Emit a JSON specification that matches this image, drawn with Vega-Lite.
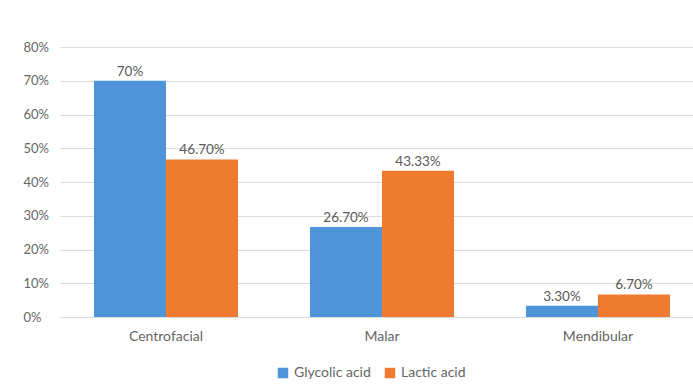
{
  "$schema": "https://vega.github.io/schema/vega-lite/v6.json",
  "autosize": {"type": "none"},
  "width": 633,
  "height": 270,
  "padding": {"left": 60, "top": 47, "right": 0, "bottom": 70},
  "background": "#ffffff",
  "config": {
    "font": "Lato",
    "view": {"stroke": null},
    "axis": {"labelColor": "#666666", "titleColor": "#666666"}
  },
  "data": {
    "values": [
      {"region": "Centrofacial", "acid": "Glycolic acid", "value": 0.70, "label": "70%"},
      {"region": "Centrofacial", "acid": "Lactic acid", "value": 0.467, "label": "46.70%"},
      {"region": "Malar", "acid": "Glycolic acid", "value": 0.267, "label": "26.70%"},
      {"region": "Malar", "acid": "Lactic acid", "value": 0.4333, "label": "43.33%"},
      {"region": "Mendibular", "acid": "Glycolic acid", "value": 0.033, "label": "3.30%"},
      {"region": "Mendibular", "acid": "Lactic acid", "value": 0.067, "label": "6.70%"}
    ]
  },
  "encoding": {
    "x": {
      "field": "region",
      "type": "nominal",
      "sort": ["Centrofacial", "Malar", "Mendibular"],
      "scale": {"paddingInner": 0.3333, "paddingOuter": 0.132, "align": 0.596},
      "axis": {
        "title": null,
        "labelAngle": 0,
        "labelFontSize": 14,
        "ticks": false,
        "tickSize": 0,
        "domain": false,
        "labelPadding": 12
      }
    },
    "xOffset": {"field": "acid", "type": "nominal", "sort": ["Glycolic acid", "Lactic acid"], "scale": {"paddingInner": 0, "paddingOuter": 0}},
    "y": {
      "field": "value",
      "type": "quantitative",
      "scale": {"domain": [0, 0.8]},
      "axis": {
        "title": null,
        "format": ".0%",
        "values": [0, 0.1, 0.2, 0.3, 0.4, 0.5, 0.6, 0.7, 0.8],
        "labelFontSize": 13,
        "ticks": false,
        "tickSize": 0,
        "domain": false,
        "grid": true,
        "gridColor": "#dcdcdc",
        "gridWidth": 1,
        "labelAlign": "left",
        "labelPadding": 37
      }
    }
  },
  "layer": [
    {
      "mark": {"type": "bar"},
      "encoding": {
        "color": {
          "field": "acid",
          "type": "nominal",
          "sort": ["Glycolic acid", "Lactic acid"],
          "scale": {"domain": ["Glycolic acid", "Lactic acid"], "range": ["#4f93d8", "#ee7b30"]},
          "legend": {
            "title": null,
            "orient": "none",
            "direction": "horizontal",
            "legendX": 216,
            "legendY": 319,
            "symbolType": "square",
            "symbolSize": 110,
            "symbolStrokeWidth": 0,
            "labelFontSize": 14,
            "labelColor": "#666666",
            "labelOffset": 4,
            "columnPadding": 12
          }
        }
      }
    },
    {
      "mark": {"type": "text", "baseline": "bottom", "dy": -2, "fontSize": 13.5, "color": "#595959"},
      "encoding": {
        "text": {"field": "label", "type": "nominal"}
      }
    }
  ]
}
